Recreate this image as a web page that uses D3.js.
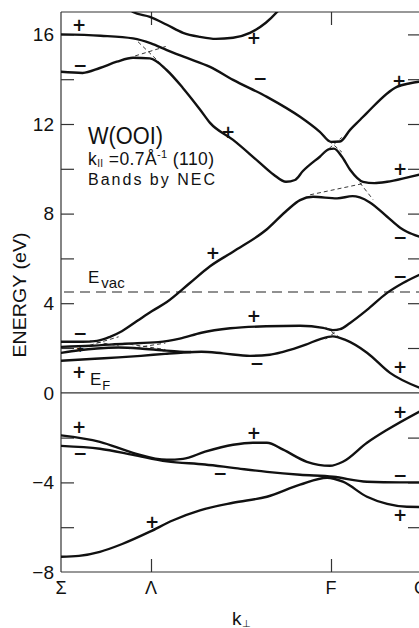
<!DOCTYPE html>
<html><head><meta charset="utf-8">
<script src="https://cdn.jsdelivr.net/npm/d3@7"></script>
<style>html,body{margin:0;padding:0;background:#fff;overflow:hidden}</style>
</head><body>
<svg id="c" width="419" height="628"></svg>
<script>
// ---------------- data ----------------
const kLabels = ["Σ", "Λ", "F", "G"];
const kLabelPos = [0, 0.25, 0.75, 1.0];
const eMajorTicks = [16, 12, 8, 4, 0, -4, -8];
const eMinorTicks = [14, 10, 6, 2, -2, -6];
const eVac = 4.5;
const eFermi = 0;

// conduction bands [k, E(eV)]
const bandA = [[0.17,17.6],[0.2,17.0],[0.247,16.78],[0.294,16.43],[0.339,16.07],[0.386,15.89],[0.43,15.8],[0.478,15.85],[0.525,16.07],[0.569,16.52],[0.6,17.0],[0.63,17.6]];
const bandB = [[0,16.0],[0.11,15.94],[0.2,15.82],[0.25,15.6],[0.294,15.3],[0.35,14.95],[0.414,14.55],[0.478,13.97],[0.572,13.21],[0.664,12.32],[0.719,11.65],[0.75,11.2],[0.775,11.22],[0.803,11.74],[0.831,12.19],[0.85,12.5],[0.933,13.66],[0.97,13.82],[1.0,13.9]];
const bandC = [[0,14.33],[0.06,14.28],[0.108,14.5],[0.155,14.78],[0.2,14.96],[0.247,14.93],[0.294,14.4],[0.339,13.6],[0.386,12.65],[0.414,12.05],[0.478,11.29],[0.55,10.3],[0.59,9.75],[0.625,9.42],[0.65,9.5],[0.672,9.9],[0.719,10.54],[0.745,10.88],[0.758,10.9],[0.78,10.55],[0.803,9.96],[0.839,9.42],[0.87,9.36],[0.906,9.42],[0.969,9.64],[1.0,9.75]];
const bandD = [[0,2.28],[0.06,2.28],[0.1,2.32],[0.136,2.5],[0.169,2.75],[0.211,3.2],[0.253,3.65],[0.294,4.05],[0.358,4.9],[0.414,5.65],[0.478,6.3],[0.572,7.3],[0.628,8.15],[0.664,8.6],[0.7,8.75],[0.767,8.68],[0.81,8.78],[0.83,8.72],[0.858,8.5],[0.906,7.86],[0.942,7.37],[0.961,7.19],[1.0,6.95]];
const bandG = [[0,2.05],[0.083,2.1],[0.178,2.19],[0.27,2.26],[0.33,2.42],[0.39,2.68],[0.47,2.88],[0.57,2.97],[0.664,2.99],[0.728,2.9],[0.755,2.8],[0.775,2.84],[0.803,3.12],[0.85,3.7],[0.906,4.46],[0.95,4.9],[1.0,5.3]];
const bandM = [[0,1.78],[0.05,1.9],[0.1,1.98],[0.16,2.02],[0.22,1.98],[0.28,1.9],[0.33,1.84],[0.36,1.82]];
const bandH = [[0,1.43],[0.094,1.52],[0.16,1.58],[0.222,1.65],[0.289,1.74],[0.34,1.8],[0.39,1.83],[0.45,1.76],[0.525,1.65],[0.58,1.7],[0.617,1.83],[0.68,2.15],[0.72,2.4],[0.755,2.52],[0.79,2.36],[0.85,1.79],[0.914,0.89],[1.0,0.2]];
// valence bands
const bandV1 = [[0,-1.9],[0.108,-2.19],[0.2,-2.68],[0.294,-2.99],[0.339,-2.95],[0.4,-2.63],[0.478,-2.32],[0.533,-2.23],[0.572,-2.23],[0.617,-2.54],[0.683,-3.08],[0.747,-3.26],[0.783,-3.08],[0.85,-2.23],[0.906,-1.65],[1.0,-0.8]];
const bandV2 = [[0,-2.37],[0.108,-2.5],[0.2,-2.77],[0.294,-3.06],[0.4,-3.2],[0.478,-3.35],[0.572,-3.53],[0.664,-3.66],[0.756,-3.75],[0.85,-3.97],[0.942,-4.0],[1.0,-4.0]];
const bandV3 = [[0,-7.32],[0.05,-7.28],[0.108,-7.1],[0.17,-6.75],[0.247,-6.2],[0.31,-5.7],[0.386,-5.25],[0.478,-4.91],[0.572,-4.64],[0.664,-4.1],[0.739,-3.79],[0.783,-3.97],[0.85,-4.64],[0.906,-4.96],[0.961,-5.09],[1.0,-5.1]];

// unperturbed (dashed) crossings, each [[k,E],[k,E]]
const crossings = [
  [[0.214,15.67],[0.289,14.51]], [[0.206,15.04],[0.297,15.49]],
  [[0.73,11.45],[0.78,10.75]], [[0.73,10.7],[0.78,11.4]],
  [[0.735,2.92],[0.78,2.4]], [[0.735,2.4],[0.78,2.92]],
  [[0.692,8.84],[0.836,9.33]], [[0.83,9.38],[0.867,8.62]],
  [[0.08,2.12],[0.16,2.5]], [[0.08,2.32],[0.16,2.1]],
  [[0.19,2.17],[0.29,1.93]], [[0.19,1.97],[0.29,2.22]]
];

// symmetry signs
const signK = [0.05,0.053,0.536,0.553,0.464,0.939,0.942,0.942,0.942,0.422,0.536,0.544,0.942,0.053,0.05,0.05,0.053,0.253,0.536,0.442,0.942,0.942,0.942];
const signE = [16.43,14.64,15.85,14.06,11.65,13.93,10.0,6.96,5.22,6.25,3.44,1.34,1.16,2.68,0.94,-1.54,-2.68,-5.76,-1.79,-3.57,-0.85,-3.66,-5.44];
const signS = ["+","−","+","−","+","+","+","−","−","+","+","−","+","−","+","+","−","+","+","−","+","−","+"];
const smallPlus = {k:0.053, E:2.0};

// ---------------- drawing ----------------
const svg = d3.select("#c");
const W = 419, H = 628;
svg.append("rect").attr("width", W).attr("height", H).attr("fill", "#fff");
const x = d3.scaleLinear().domain([0, 1]).range([61, 421]);
const y = d3.scaleLinear().domain([-8, 17]).range([572, 12]);
const font = "'Liberation Sans', Arial, sans-serif";
const ink = "#111";

svg.append("clipPath").attr("id", "clip").append("rect")
  .attr("x", x(0)).attr("y", y(17)).attr("width", x(1) - x(0)).attr("height", y(-8) - y(17));

// frame
const frame = svg.append("g").attr("stroke", "#333").attr("stroke-width", 1.2).attr("fill", "none");
frame.append("line").attr("x1", x(0)).attr("x2", x(0)).attr("y1", y(17)).attr("y2", y(-8));
frame.append("line").attr("x1", x(1)).attr("x2", x(1)).attr("y1", y(17)).attr("y2", y(-8));
frame.append("line").attr("x1", x(0)).attr("x2", x(1)).attr("y1", y(17)).attr("y2", y(17));
frame.append("line").attr("x1", x(0)).attr("x2", x(1)).attr("y1", y(-8)).attr("y2", y(-8));
frame.append("line").attr("x1", x(0)).attr("x2", x(1)).attr("y1", y(eFermi)).attr("y2", y(eFermi));

// left axis ticks (inward) and right axis ticks
const allE = eMajorTicks.concat(eMinorTicks).filter(e => e > -8 && e < 17 && e !== 0);
const leftAxis = d3.axisRight(y).tickValues(allE).tickSize(13).tickFormat("");
const gl = svg.append("g").attr("transform", `translate(${x(0)},0)`).call(leftAxis);
const rightAxis = d3.axisLeft(y).tickValues(allE).tickSize(13).tickFormat("");
const gr = svg.append("g").attr("transform", `translate(${x(1)},0)`).call(rightAxis);
[gl, gr].forEach(g => { g.select(".domain").remove(); g.selectAll("line").attr("stroke", "#333").attr("stroke-width", 1.2); });

// y tick labels
svg.append("g").selectAll("text").data(eMajorTicks).join("text")
  .attr("x", 54).attr("y", d => y(d)).attr("dy", "0.36em")
  .attr("text-anchor", "end").attr("font-family", font).attr("font-size", 19).attr("fill", ink)
  .text(d => d < 0 ? "−" + Math.abs(d) : d);

// k ticks at top and bottom
const midK = kLabelPos.filter(k => k > 0 && k < 1);
const bottomAxis = d3.axisTop(x).tickValues(midK).tickSize(13).tickFormat("");
const gb = svg.append("g").attr("transform", `translate(0,${y(-8)})`).call(bottomAxis);
const topAxis = d3.axisBottom(x).tickValues(midK).tickSize(13).tickFormat("");
const gt = svg.append("g").attr("transform", `translate(0,${y(17)})`).call(topAxis);
[gb, gt].forEach(g => { g.select(".domain").remove(); g.selectAll("line").attr("stroke", "#333").attr("stroke-width", 1.2); });

// k labels
svg.append("g").selectAll("text").data(kLabels).join("text")
  .attr("x", (d, i) => x(kLabelPos[i])).attr("y", 594)
  .attr("text-anchor", "middle").attr("font-family", font).attr("font-size", 18).attr("fill", ink)
  .text(d => d);

// axis titles
const kt = svg.append("text").attr("x", 232).attr("y", 625).attr("font-family", font).attr("font-size", 19).attr("fill", ink);
kt.append("tspan").text("k");
kt.append("tspan").attr("font-size", 10).attr("dy", 2).text("⊥");

svg.append("text").attr("transform", "translate(26,295) rotate(-90)")
  .attr("text-anchor", "middle").attr("font-family", font).attr("font-size", 18).attr("fill", ink)
  .attr("textLength", 125).attr("lengthAdjust", "spacingAndGlyphs")
  .text("ENERGY (eV)");

// E_vac dashed line
svg.append("line").attr("x1", x(0)).attr("x2", x(1)).attr("y1", y(eVac)).attr("y2", y(eVac))
  .attr("stroke", "#222").attr("stroke-width", 1.1).attr("stroke-dasharray", "10,6").attr("stroke-dashoffset", -3);

// bands
const line = d3.line().x(d => x(d[0])).y(d => y(d[1])).curve(d3.curveMonotoneX);
const bands = [bandA, bandB, bandC, bandD, bandG, bandM, bandH, bandV1, bandV2, bandV3];
const gBands = svg.append("g").attr("clip-path", "url(#clip)");
gBands.selectAll("path.band").data(bands).join("path").attr("class", "band")
  .attr("d", line).attr("fill", "none").attr("stroke", ink).attr("stroke-width", 2.4)
  .attr("stroke-linecap", "round").attr("stroke-linejoin", "round");

// crossings
const segLine = d3.line().x(d => x(d[0])).y(d => y(d[1]));
gBands.selectAll("path.cross").data(crossings).join("path").attr("class", "cross")
  .attr("d", segLine).attr("fill", "none").attr("stroke", "#222").attr("stroke-width", 0.9)
  .attr("stroke-dasharray", "4,3");

// signs
svg.append("g").selectAll("text").data(signS).join("text")
  .attr("x", (d, i) => x(signK[i])).attr("y", (d, i) => y(signE[i])).attr("dy", "0.35em")
  .attr("text-anchor", "middle").attr("font-family", "'DejaVu Sans', sans-serif")
  .attr("font-size", 17).attr("font-weight", "bold").attr("fill", ink)
  .text(d => d);
svg.append("text").attr("x", x(smallPlus.k)).attr("y", y(smallPlus.E)).attr("dy", "0.35em")
  .attr("text-anchor", "middle").attr("font-family", "'DejaVu Sans', sans-serif")
  .attr("font-size", 10).attr("font-weight", "bold").attr("fill", ink).text("+");

// annotations
svg.append("text").attr("x", 88).attr("y", 144).attr("font-family", font).attr("font-size", 23)
  .attr("fill", ink).attr("textLength", 75).attr("lengthAdjust", "spacingAndGlyphs").text("W(OOI)");
const t2 = svg.append("text").attr("x", 88).attr("y", 165).attr("font-family", font).attr("font-size", 17.5)
  .attr("letter-spacing", 0.4).attr("fill", ink);
t2.append("tspan").text("k");
t2.append("tspan").attr("font-size", 10).attr("dy", 2).text("II");
t2.append("tspan").attr("dy", -2).text(" =0.7Å");
t2.append("tspan").attr("font-size", 11).attr("dy", -7).text("-1");
t2.append("tspan").attr("dy", 7).text(" (110)");
svg.append("text").attr("x", 88).attr("y", 185).attr("font-family", font).attr("font-size", 16).attr("fill", ink)
  .attr("textLength", 127).attr("lengthAdjust", "spacing").text("Bands by NEC");

const ev = svg.append("text").attr("x", 88).attr("y", 283).attr("font-family", font).attr("font-size", 17).attr("fill", ink);
ev.append("tspan").text("E");
ev.append("tspan").attr("font-size", 15).attr("dy", 5).attr("dx", 2).text("vac");

const ef = svg.append("text").attr("x", 90).attr("y", 385).attr("font-family", font).attr("font-size", 17).attr("fill", ink);
ef.append("tspan").text("E");
ef.append("tspan").attr("font-size", 13).attr("dy", 5).attr("dx", 1).text("F");
</script>
</body></html>
